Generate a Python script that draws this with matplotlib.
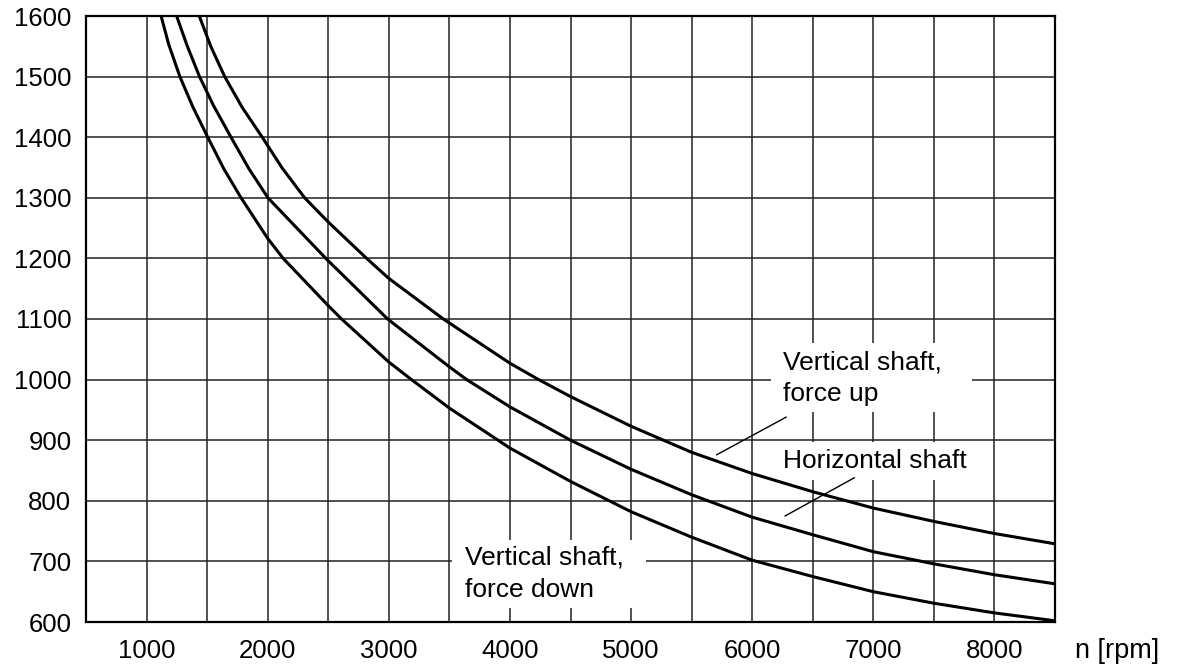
import matplotlib
matplotlib.use("Agg")
import matplotlib.pyplot as plt
from matplotlib.patches import Rectangle

plt.rcParams['font.family'] = ['Liberation Sans', 'DejaVu Sans']

# Data
x_down = [1120, 1183, 1275, 1382, 1505, 1640, 1780, 2000, 2128, 2500, 2610,
          3000, 3187, 3500, 4000, 4500, 5000, 5500, 6000, 6500, 7000,
          7500, 8000, 8500]
y_down = [1600, 1553, 1500, 1450, 1400, 1347, 1300, 1233, 1200, 1122, 1100,
          1029, 1000, 953, 887, 832, 782, 740, 702, 675, 650,
          631, 615, 602]

x_horiz = [1248, 1333, 1437, 1553, 1697, 1845, 2002, 2480, 2990, 3500, 3643,
           4000, 4500, 5000, 5500, 6000, 6500, 7000, 7500, 8000, 8500]
y_horiz = [1600, 1552, 1500, 1452, 1400, 1348, 1300, 1200, 1100, 1021, 1000,
           955, 900, 852, 810, 773, 744, 716, 696, 678, 663]

x_up = [1435, 1530, 1645, 1790, 1955, 2120, 2305, 2500, 2817, 3000, 3450,
        4000, 4237, 4500, 5000, 5500, 6000, 6500, 7000, 7500, 8000, 8500]
y_up = [1600, 1550, 1500, 1449, 1400, 1349, 1300, 1260, 1200, 1167, 1100,
        1027, 1000, 972, 923, 880, 845, 815, 788, 766, 746, 729]

x_ticks = [1000, 2000, 3000, 4000, 5000, 6000, 7000, 8000]
y_ticks = [600, 700, 800, 900, 1000, 1100, 1200, 1300, 1400, 1500, 1600]
x_grid = list(range(500, 8501, 500))

label_up = "Vertical shaft,\nforce up"
label_horiz = "Horizontal shaft"
label_down = "Vertical shaft,\nforce down"
x_unit = "n [rpm]"

fig = plt.figure(figsize=(11.77, 6.66), dpi=100)
ax = fig.add_axes([86/1177, 44/666, (1055-86)/1177, (622-16)/666])
ax.set_xlim(500, 8500)
ax.set_ylim(600, 1600)

# grid
for gx in x_grid:
    ax.axvline(gx, color='#222222', lw=1.1, zorder=1)
for gy in y_ticks:
    ax.axhline(gy, color='#222222', lw=1.1, zorder=1)

ax.set_xticks(x_ticks)
ax.set_yticks(y_ticks)
ax.tick_params(length=0, labelsize=18.5)
ax.tick_params(axis='y', pad=10.5)
ax.tick_params(axis='x', pad=12)
for s in ax.spines.values():
    s.set_linewidth(1.6)
    s.set_zorder(5)

lw = 2.2
for xs, ys in ((x_down, y_down), (x_horiz, y_horiz), (x_up, y_up)):
    ax.plot(xs, ys, color='black', lw=lw, zorder=4,
            solid_capstyle='butt', solid_joinstyle='round')

# white label boxes
ax.add_patch(Rectangle((6155, 947), 7813-6155, 1060-947, facecolor='white',
                       edgecolor='none', zorder=2))
ax.add_patch(Rectangle((6150, 834), 7950-6150, 897-834, facecolor='white',
                       edgecolor='none', zorder=2))
ax.add_patch(Rectangle((3518, 623), 5127-3518, 735-623, facecolor='white',
                       edgecolor='none', zorder=2))

fs = 19
ax.text(6255, 964, label_up, fontsize=fs, ha='left', va='baseline',
        zorder=3, linespacing=1.42)
ax.text(6255, 854, label_horiz, fontsize=fs, ha='left', va='baseline', zorder=3)
ax.text(3625, 642, label_down, fontsize=fs, ha='left', va='baseline',
        zorder=3, linespacing=1.42)

# leader lines
ax.plot([6280, 5707], [938, 876], color='black', lw=1.0, zorder=4)
ax.plot([6843, 6272], [838, 775], color='black', lw=1.0, zorder=4)

fig.text(1075/1177, 1 - 658/666, x_unit, fontsize=19.5, ha='left', va='baseline')

fig.savefig("out.png", dpi=100)
